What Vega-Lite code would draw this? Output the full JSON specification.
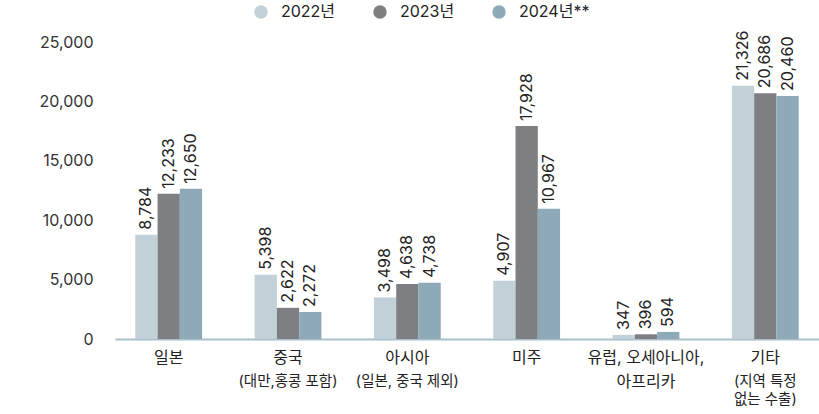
{
  "$schema": "https://vega.github.io/schema/vega-lite/v6.json",
  "autosize": "none",
  "width": 704,
  "height": 297,
  "padding": {"left": 115, "top": 42, "right": 0, "bottom": 75},
  "background": "white",
  "config": {
    "font": "Inter, Noto Sans CJK KR, sans-serif",
    "view": {"stroke": null}
  },
  "data": {
    "values": [
      {"region": "일본", "year": "2022년", "value": 8784},
      {"region": "일본", "year": "2023년", "value": 12233},
      {"region": "일본", "year": "2024년**", "value": 12650},
      {"region": "중국", "year": "2022년", "value": 5398},
      {"region": "중국", "year": "2023년", "value": 2622},
      {"region": "중국", "year": "2024년**", "value": 2272},
      {"region": "아시아", "year": "2022년", "value": 3498},
      {"region": "아시아", "year": "2023년", "value": 4638},
      {"region": "아시아", "year": "2024년**", "value": 4738},
      {"region": "미주", "year": "2022년", "value": 4907},
      {"region": "미주", "year": "2023년", "value": 17928},
      {"region": "미주", "year": "2024년**", "value": 10967},
      {"region": "유럽", "year": "2022년", "value": 347},
      {"region": "유럽", "year": "2023년", "value": 396},
      {"region": "유럽", "year": "2024년**", "value": 594},
      {"region": "기타", "year": "2022년", "value": 21326},
      {"region": "기타", "year": "2023년", "value": 20686},
      {"region": "기타", "year": "2024년**", "value": 20460}
    ]
  },
  "encoding": {
    "x": {
      "field": "region",
      "type": "nominal",
      "sort": ["일본", "중국", "아시아", "미주", "유럽", "기타"],
      "scale": {"paddingInner": 0.44, "paddingOuter": 0.17}
    },
    "xOffset": {"field": "year", "type": "nominal", "sort": ["2022년", "2023년", "2024년**"]},
    "y": {
      "field": "value",
      "type": "quantitative",
      "scale": {"domain": [0, 25000], "nice": false},
      "axis": {
        "title": null,
        "values": [0, 5000, 10000, 15000, 20000, 25000],
        "labelExpr": "format(datum.value, ',')",
        "grid": false,
        "domain": false,
        "ticks": false,
        "labelFontSize": 16,
        "labelColor": "#333333",
        "labelPadding": 22
      }
    }
  },
  "layer": [
    {
      "mark": {"type": "bar"},
      "encoding": {
        "x": {
          "field": "region",
          "type": "nominal",
          "sort": ["일본", "중국", "아시아", "미주", "유럽", "기타"],
          "axis": {
            "orient": "bottom",
            "title": null,
            "labelAngle": 0,
            "ticks": false,
            "domainColor": "#a9bfcb",
            "domainWidth": 2,
            "labelFontSize": 16,
            "labelColor": "#222222",
            "labelPadding": 10,
            "labelLineHeight": 24,
            "labelExpr": "datum.value == '유럽' ? ['유럽, 오세아니아,', '아프리카'] : datum.value == '일본' ? '일본\u00a0\u00a0\u00a0\u00a0\u00a0' : datum.value"
          }
        },
        "color": {
          "field": "year",
          "type": "nominal",
          "sort": ["2022년", "2023년", "2024년**"],
          "scale": {"range": ["#c2d0d8", "#7e7f83", "#8ea9b7"]},
          "legend": {
            "title": null,
            "orient": "none",
            "legendX": 138,
            "legendY": -38,
            "direction": "horizontal",
            "symbolType": "circle",
            "symbolSize": 180,
            "labelFontSize": 16,
            "labelColor": "#222222",
            "columnPadding": 36,
            "labelOffset": 12
          }
        }
      }
    },
    {
      "mark": {"type": "text", "angle": 270, "align": "left", "baseline": "middle", "dx": 5, "fontSize": 16, "color": "#222222"},
      "encoding": {
        "x": {
          "field": "region",
          "type": "nominal",
          "sort": ["일본", "중국", "아시아", "미주", "유럽", "기타"],
          "axis": {
            "orient": "bottom",
            "title": null,
            "labelAngle": 0,
            "ticks": false,
            "domain": false,
            "labelFontSize": 14.5,
            "labelColor": "#222222",
            "labelPadding": 35,
            "labelLineHeight": 18,
            "labelExpr": "datum.value == '중국' ? '(대만,홍콩 포함)' : datum.value == '아시아' ? '(일본, 중국 제외)' : datum.value == '기타' ? ['(지역 특정', '없는 수출)'] : ''"
          }
        },
        "text": {"field": "value", "type": "quantitative", "format": ","}
      }
    }
  ],
  "resolve": {"axis": {"x": "independent"}}
}
